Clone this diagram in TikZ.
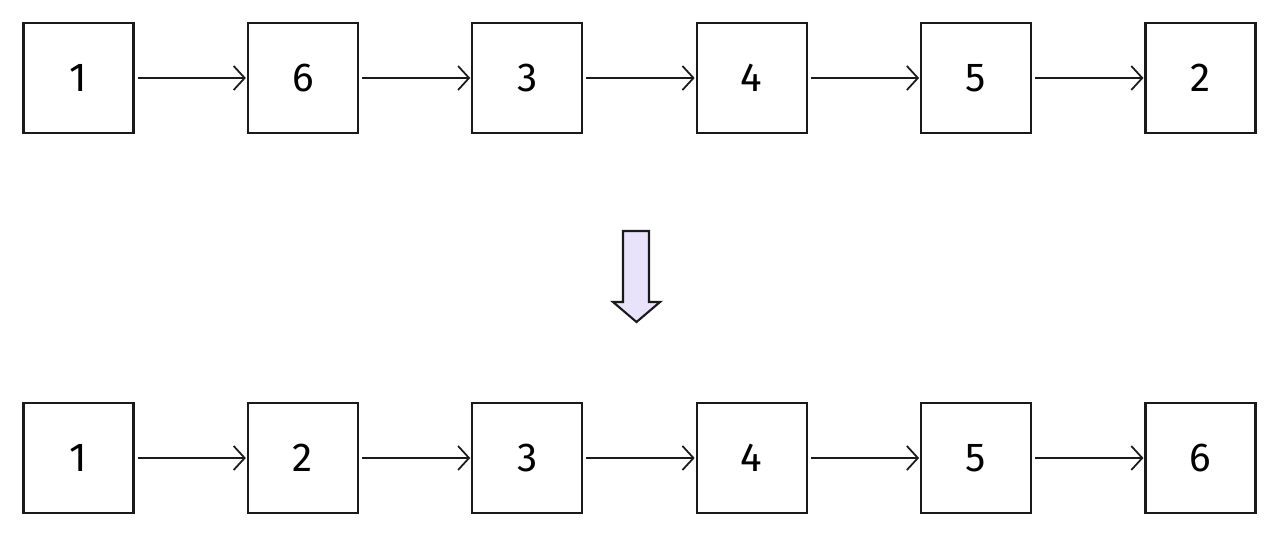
\documentclass[tikz,border=0pt]{standalone}
\usepackage{fontspec}
\setmainfont{Fira Sans}
\usepackage{tikz}
\usetikzlibrary{arrows.meta,positioning}
\definecolor{ListBlack}{HTML}{1A1A1A}
\definecolor{ListLavender}{HTML}{E8E2FB}
\tikzset{
    % List element box
    listnode/.style={
        draw=ListBlack,
        fill=white,
        line width=0.6pt,
        minimum size=1.1cm,
        inner sep=0pt,
        align=center,
        font=\fontsize{11.5}{13}\selectfont
    },
    % Link arrow
    linkarrow/.style={
        -{Straight Barb[length=1.1mm,width=2.4mm]},
        line width=0.5pt,
        draw=ListBlack,
        shorten <=0.03cm,
        shorten >=0.01cm
    },
    % Block arrow between the rows
    bigarrow/.style={
        draw=ListBlack,
        fill=ListLavender,
        line width=0.6pt,
        line join=miter
    }
}
\begin{document}
\begin{tikzpicture}
    \useasboundingbox (0,0) rectangle (12.8,5.37);
    % unsorted list
    \node[listnode] (a1) at (0.785,4.59) {1};
    \node[listnode] (a2) at (3.029,4.59) {6};
    \node[listnode] (a3) at (5.273,4.59) {3};
    \node[listnode] (a4) at (7.517,4.59) {4};
    \node[listnode] (a5) at (9.761,4.59) {5};
    \node[listnode] (a6) at (12.005,4.59) {2};

    \draw[linkarrow] (a1) -- (a2);
    \draw[linkarrow] (a2) -- (a3);
    \draw[linkarrow] (a3) -- (a4);
    \draw[linkarrow] (a4) -- (a5);
    \draw[linkarrow] (a5) -- (a6);

    % down arrow
    \draw[bigarrow] (6.23,3.06) -- (6.49,3.06) -- (6.49,2.35) -- (6.60,2.35)
        -- (6.365,2.15) -- (6.13,2.35) -- (6.23,2.35) -- cycle;

    % sorted list
    \node[listnode] (b1) at (0.785,0.79) {1};
    \node[listnode] (b2) at (3.029,0.79) {2};
    \node[listnode] (b3) at (5.273,0.79) {3};
    \node[listnode] (b4) at (7.517,0.79) {4};
    \node[listnode] (b5) at (9.761,0.79) {5};
    \node[listnode] (b6) at (12.005,0.79) {6};

    \draw[linkarrow] (b1) -- (b2);
    \draw[linkarrow] (b2) -- (b3);
    \draw[linkarrow] (b3) -- (b4);
    \draw[linkarrow] (b4) -- (b5);
    \draw[linkarrow] (b5) -- (b6);
\end{tikzpicture}
\end{document}
